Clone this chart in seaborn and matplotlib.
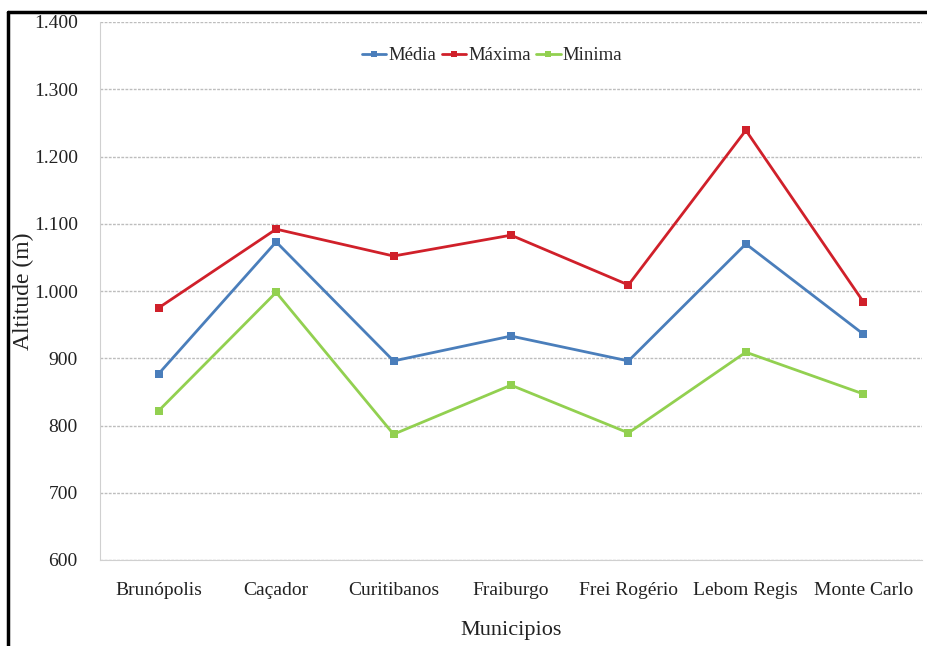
import numpy as np
import pandas as pd
import matplotlib.pyplot as plt
import matplotlib.ticker as mticker
from matplotlib.lines import Line2D
import seaborn as sns

municipios = ['Brunópolis', 'Caçador', 'Curitibanos', 'Fraiburgo',
              'Frei Rogério', 'Lebom Regis', 'Monte Carlo']
media = [877, 1073, 896, 933, 896, 1070, 936]
maxima = [975, 1092, 1052, 1083, 1009, 1239, 984]
minima = [822, 998, 787, 860, 789, 909, 847]

series = ['Média', 'Máxima', 'Minima']
cores = ['#4a7ebb', '#d0202a', '#92d050']

df = pd.DataFrame({'Municipio': municipios * 3,
                   'Altitude': media + maxima + minima,
                   'Serie': np.repeat(series, len(municipios))})

sns.set_style('white')
plt.rcParams['font.family'] = ['Liberation Serif', 'DejaVu Serif']

fig = plt.figure(figsize=(9.28, 6.46), dpi=100)
ax = fig.add_axes([100/928, 1 - 560/646, 822/928, 538/646])

sns.lineplot(data=df, x='Municipio', y='Altitude', hue='Serie',
             palette=dict(zip(series, cores)), marker='s', markersize=6,
             markeredgewidth=0, linewidth=2, sort=False, ax=ax)

ax.set_xlim(-0.5, len(municipios) - 0.5)
ax.set_ylim(600, 1400)
ax.yaxis.set_major_locator(mticker.MultipleLocator(100))
ax.yaxis.set_major_formatter(mticker.FuncFormatter(
    lambda v, p: f'{int(v):,}'.replace(',', '.')))
ax.grid(axis='y', color='#bdbdbd', linestyle=(0, (2, 1)), linewidth=1)
ax.set_axisbelow(True)
for s in ['top', 'right']:
    ax.spines[s].set_visible(False)
for s in ['left', 'bottom']:
    ax.spines[s].set_color('#d0d0d0')
ax.tick_params(axis='both', length=0, labelsize=14, colors='#222222')
ax.tick_params(axis='x', pad=16)
ax.tick_params(axis='y', pad=16)

ax.set_xlabel('Municipios', fontsize=16, color='#222222')
ax.set_ylabel('Altitude (m)', fontsize=17, color='#222222')
ax.xaxis.set_label_coords(0.5, -0.113)
ax.yaxis.set_label_coords(-0.08, 0.5)

ax.legend(loc='upper center', bbox_to_anchor=(0.477, 0.985), ncol=3, frameon=False,
          fontsize=13.5, handlelength=1.3, handletextpad=0.1, columnspacing=0.3,
          markerscale=0.8)

# moldura preta da imagem
fig.add_artist(Line2D([8/928, 8/928], [0, 1 - 12/646], color='black', lw=2.5))
fig.add_artist(Line2D([8/928, 1], [1 - 12/646, 1 - 12/646], color='black', lw=2.5))

fig.savefig('out.png', dpi=100)
